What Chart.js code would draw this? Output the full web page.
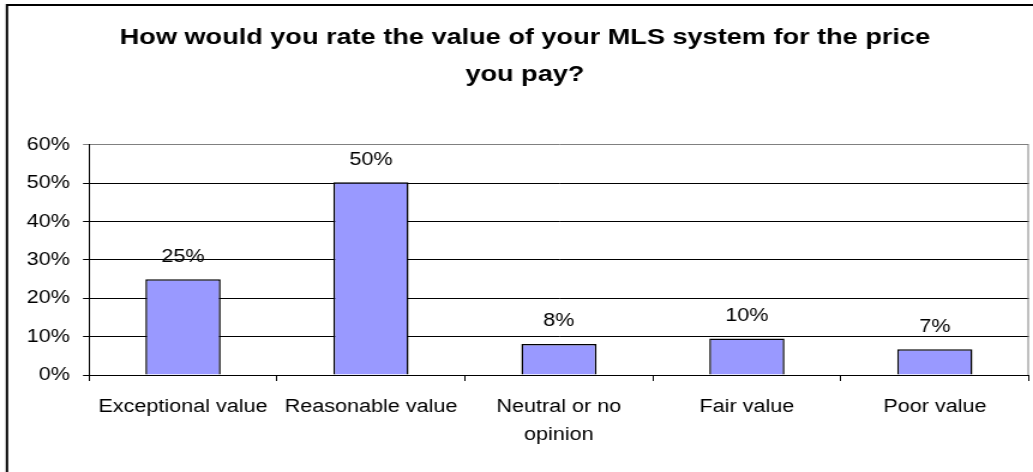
<!DOCTYPE html>
<html>
<head>
<meta charset="utf-8">
<script src="https://cdn.jsdelivr.net/npm/chart.js@4/dist/chart.umd.min.js"></script>
<style>
  html, body { margin: 0; padding: 0; background: #fff; overflow: hidden; }
</style>
</head>
<body>
<!-- drawn at 861 px wide and shown 1033 px wide -->
<canvas id="chart" width="861" height="472" style="display:block;width:1033px;height:472px;"></canvas>
<script>
// Survey answers and their share of respondents (percent)
const categories = ['Exceptional value', 'Reasonable value', ['Neutral or no', 'opinion'], 'Fair value', 'Poor value'];
const shares = [25, 50.3, 8.1, 9.5, 6.7];
const titleLines = ['How would you rate the value of your MLS system for the price', 'you pay?'];
const yMin = 0;
const yMax = 60;
const yStep = 10;

const FONT = "'Liberation Sans', Arial, sans-serif";

// Frame around the whole chart (left and top edges), the grey right edge of
// the plot area, and the value written above each bar.
const decorations = {
  id: 'decorations',
  beforeDraw(chart) {
    const ctx = chart.ctx;
    ctx.save();
    ctx.fillStyle = '#fff';
    ctx.fillRect(0, 0, chart.width, chart.height);
    ctx.restore();
  },
  afterDatasetsDraw(chart) {
    const ctx = chart.ctx;
    const meta = chart.getDatasetMeta(0);
    ctx.save();
    ctx.fillStyle = '#000';
    ctx.font = '18px ' + FONT;
    ctx.textAlign = 'center';
    ctx.textBaseline = 'alphabetic';
    meta.data.forEach((bar, i) => {
      const v = chart.data.datasets[0].data[i];
      ctx.fillText(Math.round(v) + '%', bar.x, bar.y - 17.5);
    });
    ctx.restore();
  },
  afterDraw(chart) {
    const ctx = chart.ctx;
    const a = chart.chartArea;
    ctx.save();
    ctx.strokeStyle = '#808080';
    ctx.lineWidth = 1;
    ctx.beginPath();
    ctx.moveTo(a.right - 0.5, a.top);
    ctx.lineTo(a.right - 0.5, a.bottom);
    ctx.stroke();
    ctx.strokeStyle = '#000';
    ctx.lineWidth = 2;
    ctx.beginPath();
    ctx.moveTo(5.8, chart.height + 2);
    ctx.lineTo(5.8, 5);
    ctx.lineTo(chart.width + 2, 5);
    ctx.stroke();
    ctx.restore();
  }
};

new Chart(document.getElementById('chart'), {
  type: 'bar',
  data: {
    labels: categories,
    datasets: [{
      data: shares,
      backgroundColor: '#9999FF',
      borderColor: '#000',
      borderWidth: 1.5,
      barPercentage: 0.4,
      categoryPercentage: 1.0
    }]
  },
  options: {
    responsive: false,
    devicePixelRatio: 1,
    animation: false,
    layout: { padding: { left: 17.5, right: 3.5, top: 0, bottom: 0 } },
    plugins: {
      legend: { display: false },
      tooltip: { enabled: false },
      title: {
        display: true,
        text: titleLines,
        color: '#000',
        font: { family: FONT, size: 22.6, weight: 'bold', lineHeight: 1.637 },
        padding: { top: 19, bottom: 52 }
      }
    },
    scales: {
      x: {
        grid: {
          offset: true,
          drawOnChartArea: false,
          drawTicks: true,
          tickLength: 6,
          color: '#000'
        },
        border: { display: true, color: '#000', width: 1 },
        ticks: {
          color: '#000',
          font: { family: FONT, size: 18, lineHeight: 1.55 },
          padding: 12,
          autoSkip: false,
          maxRotation: 0,
          minRotation: 0
        },
        afterFit(scale) { scale.height = 97; }
      },
      y: {
        min: yMin,
        max: yMax,
        grid: {
          color: (c) => (c.tick && c.tick.value === yMax ? '#808080' : '#000'),
          lineWidth: 1,
          tickLength: 5
        },
        border: { display: true, color: '#000', width: 1 },
        ticks: {
          stepSize: yStep,
          color: '#000',
          font: { family: FONT, size: 18 },
          padding: 11,
          callback: (v) => v + '%'
        },
        afterFit(scale) { scale.width = 56.7; }
      }
    }
  },
  plugins: [decorations]
});
</script>
</body>
</html>
